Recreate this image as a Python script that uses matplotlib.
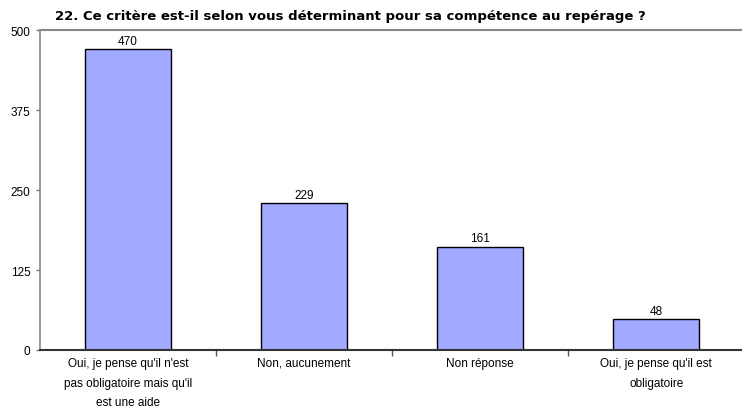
import matplotlib
matplotlib.use('Agg')
import matplotlib.pyplot as plt
import numpy as np

plt.rcParams['font.family'] = ['Liberation Sans', 'DejaVu Sans']

categories = ["Oui, je pense qu'il n'est\npas obligatoire mais qu'il\nest une aide",
              "Non, aucunement",
              "Non réponse",
              "Oui, je pense qu'il est\nobligatoire"]
values = [470, 229, 161, 48]
yticks = [0, 125, 250, 375, 500]
title = "22. Ce critère est-il selon vous déterminant pour sa compétence au repérage ?"

fig = plt.figure(figsize=(7.42, 4.10), dpi=100)
ax = fig.add_axes([0.054, 0.144, 0.949, 0.780])

x = np.arange(len(values))
bars = ax.bar(x, values, width=0.49, color='#a0a8ff', edgecolor='black', linewidth=1.0)
for xi, v in zip(x, values):
    ax.text(xi, v + 4, str(v), ha='center', va='bottom', fontsize=8.5)

ax.set_xlim(-0.5, len(values) - 0.5)
ax.set_ylim(0, 500)
ax.set_yticks(yticks)
ax.set_yticklabels([str(t) for t in yticks], fontsize=8.5)
ax.set_xticks(x)
ax.set_xticklabels(categories, fontsize=8.5, linespacing=1.85)
ax.tick_params(axis='x', length=0, pad=5)
ax.set_xticks(np.arange(0.5, len(values) - 0.5, 1), minor=True)
ax.tick_params(axis='x', which='minor', length=4, width=1, color='#555555')
ax.tick_params(axis='y', length=3, width=1, color='#777777', pad=4)

ax.spines['right'].set_visible(False)
ax.spines['top'].set_color('#888888')
ax.spines['top'].set_linewidth(1.5)
ax.spines['left'].set_color('#888888')
ax.spines['left'].set_linewidth(1.2)
ax.spines['bottom'].set_color('#333333')
ax.spines['bottom'].set_linewidth(1.5)

fig.text(0.074, 0.943, title, fontsize=9.5, fontweight='bold', ha='left', va='bottom',
         family=['DejaVu Sans'])

fig.savefig('out.png', dpi=100)
